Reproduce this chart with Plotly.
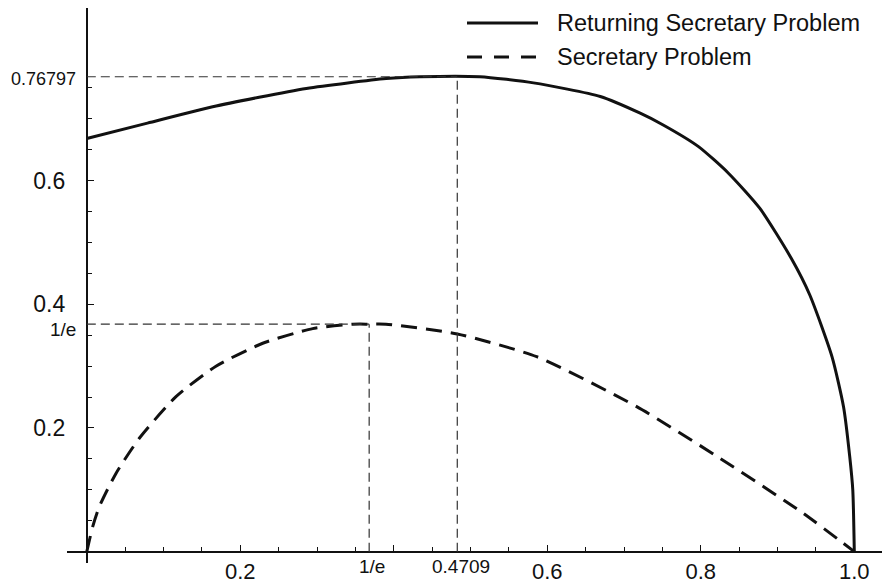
import plotly.graph_objects as go

# ---- data ----
ret_x = [0, 0.079, 0.164, 0.286, 0.39, 0.434, 0.512, 0.582, 0.669, 0.721, 0.751,
         0.797, 0.836, 0.877, 0.918, 0.942, 0.971, 0.986, 0.994, 0.998, 1.0]
ret_y = [0.668, 0.693, 0.7195, 0.749, 0.765, 0.768, 0.768, 0.758, 0.736, 0.709, 0.690,
         0.655, 0.612, 0.555, 0.474, 0.415, 0.315, 0.234, 0.154, 0.100, 0.0]

sec_x = [0, 0.0077, 0.0163, 0.038, 0.0684, 0.1162, 0.1683, 0.2292, 0.2943, 0.3464,
         0.3679, 0.3898, 0.4827, 0.5862, 0.7165, 0.825, 0.9335, 1.0]
sec_y = [0, 0.0404, 0.0728, 0.1266, 0.1834, 0.2506, 0.2999, 0.337, 0.3607, 0.3678,
         0.3679, 0.3678, 0.352, 0.3153, 0.2345, 0.151, 0.0621, 0.0]

series_names = ["Returning Secretary Problem", "Secretary Problem"]

ret_max_x = 0.4827      # where the vertical guide is drawn
ret_max_y = 0.76797
sec_max_x = 0.3679
sec_max_y = 0.3679

x_major = [0.2, 0.4, 0.6, 0.8, 1.0]
x_major_text = ["0.2", "", "0.6", "0.8", "1.0"]
y_major = [0.2, 0.4, 0.6]
y_major_text = ["0.2", "0.4", "0.6"]
x_minor = [0.05, 0.1, 0.15, 0.25, 0.3, 0.35, 0.45, 0.5, 0.55, 0.65, 0.7, 0.75,
           0.85, 0.9, 0.95]
y_minor = [0.05, 0.1, 0.15, 0.25, 0.3, 0.35, 0.45, 0.5, 0.55, 0.65, 0.7, 0.75]

x_special = [(sec_max_x, "1/e"), (ret_max_x, "0.4709")]
y_special = [(ret_max_y, "0.76797"), (sec_max_y, "1/e")]

# ---- layout geometry (page body has an 8px margin) ----
OFF = 8
W, H = 882, 578
ML, MR, MT, MB = 59, 0, 0, 23
XR = [-0.0258, 1.0465]
YR = [-0.0183, 0.8791]
FONT = "Liberation Sans, Arial, Helvetica, sans-serif"
INK = "#111111"


def px_x(px):
    return (px - OFF - ML) / (W - ML - MR)


def px_y(py):
    return (H - MB - (py - OFF)) / (H - MT - MB)


fig = go.Figure()
fig.add_trace(go.Scatter(x=ret_x, y=ret_y, mode="lines", name=series_names[0],
                         line=dict(color=INK, width=3, shape="spline", smoothing=0.6),
                         showlegend=False))
fig.add_trace(go.Scatter(x=sec_x, y=sec_y, mode="lines", name=series_names[1],
                         line=dict(color=INK, width=3, dash="16px,9px",
                                   shape="spline", smoothing=0.6),
                         showlegend=False))

guide = dict(color="#333333", width=1.2, dash="9px,5px")
shapes = [
    dict(type="line", xref="x", yref="y", x0=0, x1=ret_max_x, y0=ret_max_y, y1=ret_max_y, line=guide),
    dict(type="line", xref="x", yref="y", x0=ret_max_x, x1=ret_max_x, y0=0, y1=ret_max_y, line=guide),
    dict(type="line", xref="x", yref="y", x0=0, x1=sec_max_x, y0=sec_max_y, y1=sec_max_y, line=guide),
    dict(type="line", xref="x", yref="y", x0=sec_max_x, x1=sec_max_x, y0=0, y1=sec_max_y, line=guide),
    # legend samples
    dict(type="line", xref="paper", yref="paper", x0=px_x(467), x1=px_x(538),
         y0=px_y(23), y1=px_y(23), line=dict(color=INK, width=3)),
    dict(type="line", xref="paper", yref="paper", x0=px_x(467), x1=px_x(538),
         y0=px_y(57), y1=px_y(57), line=dict(color=INK, width=3, dash="15px,12px")),
]

annotations = []
for name, py in zip(series_names, [23, 57]):
    annotations.append(dict(text=name, xref="paper", yref="paper", x=px_x(555),
                            y=px_y(py), xanchor="left", yanchor="middle",
                            showarrow=False, font=dict(family=FONT, size=23.5, color=INK)))
for (val, txt), dx in zip(x_special, [3, 4]):
    annotations.append(dict(text=txt, xref="x", yref="y", x=val, y=0, xanchor="center",
                            yanchor="middle", xshift=dx, yshift=-15, showarrow=False,
                            font=dict(family=FONT, size=19, color=INK)))
for (val, txt), dx, dy, fs in zip(y_special, [-9, -9], [-2, -5], [18, 19]):
    annotations.append(dict(text=txt, xref="x", yref="y", x=0, y=val, xanchor="right",
                            yanchor="middle", xshift=dx, yshift=dy, showarrow=False,
                            font=dict(family=FONT, size=fs, color=INK)))

fig.update_layout(
    width=W, height=H,
    margin=dict(l=ML, r=MR, t=MT, b=MB, pad=0, autoexpand=False),
    paper_bgcolor="white", plot_bgcolor="white",
    shapes=shapes, annotations=annotations,
    showlegend=False,
    xaxis=dict(range=XR, showgrid=False, zeroline=False, showline=True,
               linecolor=INK, linewidth=2, anchor="free", automargin=False,
               position=(0 - YR[0]) / (YR[1] - YR[0]),
               tickmode="array", tickvals=x_major, ticktext=x_major_text,
               ticks="inside", ticklen=6, tickwidth=1, tickcolor=INK,
               ticklabelstandoff=0,
               tickfont=dict(family=FONT, size=22, color=INK),
               minor=dict(tickmode="array", tickvals=x_minor, ticks="inside",
                          ticklen=4, tickwidth=1, tickcolor=INK, showgrid=False)),
    yaxis=dict(range=YR, showgrid=False, zeroline=False, showline=True,
               linecolor=INK, linewidth=2, anchor="free", automargin=False,
               position=(0 - XR[0]) / (XR[1] - XR[0]),
               tickmode="array", tickvals=y_major, ticktext=y_major_text,
               ticks="inside", ticklen=6, tickwidth=1, tickcolor=INK,
               ticklabelstandoff=16,
               tickfont=dict(family=FONT, size=23, color=INK),
               minor=dict(tickmode="array", tickvals=y_minor, ticks="inside",
                          ticklen=4, tickwidth=1, tickcolor=INK, showgrid=False)),
)

fig.write_html("out.html")
